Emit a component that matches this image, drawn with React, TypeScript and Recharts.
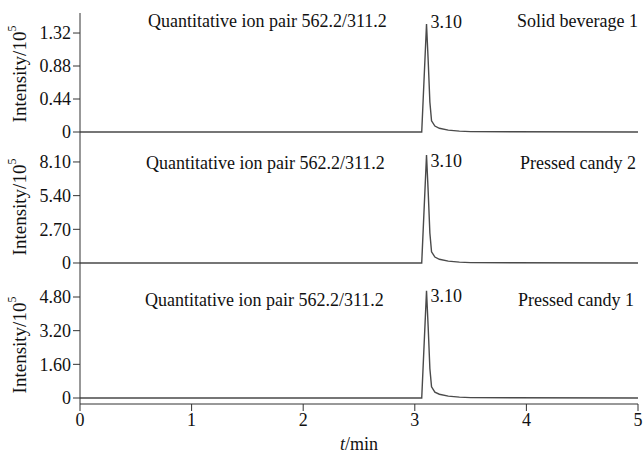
import React from 'react';
import { LineChart, Line, XAxis, YAxis, ReferenceDot } from 'recharts';

// retention time (min)
const times = [0, 2.9, 3.062, 3.105, 3.12, 3.135, 3.15, 3.18, 3.22, 3.3, 3.4, 3.5, 5];
// intensities (x10^5)
const solidBeverage1 = [0, 0, 0, 1.44, 0.95, 0.4, 0.15, 0.08, 0.05, 0.025, 0.012, 0.005, 0];
const pressedCandy2 = [0, 0, 0, 8.66, 5.7, 2.4, 0.9, 0.48, 0.3, 0.15, 0.07, 0.03, 0];
const pressedCandy1 = [0, 0, 0, 5.09, 3.35, 1.4, 0.53, 0.28, 0.18, 0.09, 0.04, 0.018, 0];

const xTicks = [0, 1, 2, 3, 4, 5];
const yTicks1 = [0, 0.44, 0.88, 1.32];
const yTickLabels1 = ['0', '0.44', '0.88', '1.32'];
const yTicks2 = [0, 2.7, 5.4, 8.1];
const yTickLabels2 = ['0', '2.70', '5.40', '8.10'];
const yTicks3 = [0, 1.6, 3.2, 4.8];
const yTickLabels3 = ['0', '1.60', '3.20', '4.80'];

const sampleNames = ['Solid beverage 1', 'Pressed candy 2', 'Pressed candy 1'];
const ionPair = 'Quantitative ion pair 562.2/311.2';
const peakLabel = '3.10';
const peakTime = 3.105;
const yLabelMain = 'Intensity/10';
const yLabelSup = '5';

const FONT = '"Liberation Serif", "Times New Roman", serif';
const FS = 18;
const LINE = '#4a4a4a';
const AXIS = '#333';

const panels = [
  { top: 0, height: 147, mTop: 13, domain: [-0.2, 1.587], ticks: yTicks1, labels: yTickLabels1, values: solidBeverage1, showX: false, peakDy: 4, ionX: 148, textY: 27, nameX: 638, yLabelCy: 74 },
  { top: 147, height: 133, mTop: 0, domain: [-1.363, 9.3], ticks: yTicks2, labels: yTickLabels2, values: pressedCandy2, showX: false, peakDy: 12, ionX: 146, textY: 169, nameX: 636, yLabelCy: 207 },
  { top: 280, height: 174, mTop: 0, domain: [-0.285, 5.608], ticks: yTicks3, labels: yTickLabels3, values: pressedCandy1, showX: true, peakDy: 11, ionX: 145, textY: 306, nameX: 634, yLabelCy: 345 },
];

const PeakText = (props: any) => {
  const vb = props.viewBox || {};
  return (
    <text x={(vb.x || 0) + 4} y={(vb.y || 0) + props.dy} fontFamily={FONT} fontSize={FS} fill="#111">
      {peakLabel}
    </text>
  );
};

export default function App() {
  return (
    <div style={{ position: 'absolute', left: 0, top: 0, width: 644, height: 454, background: '#fff' }}>
      {panels.map((p, i) => {
        const data = times.map((t, k) => ({ t, v: p.values[k] }));
        const peakIdx = p.values.indexOf(Math.max(...p.values));
        return (
          <div key={i} style={{ position: 'absolute', left: 0, top: p.top }}>
            <LineChart
              width={644}
              height={p.height}
              data={data}
              margin={{ top: p.mTop, right: 6, bottom: 0, left: 0 }}
            >
              <XAxis
                dataKey="t"
                type="number"
                domain={[0, 5]}
                ticks={xTicks}
                hide={!p.showX}
                height={50}
                tickSize={7}
                tickMargin={2}
                stroke={AXIS}
                tick={{ fill: '#111', fontFamily: FONT, fontSize: FS }}
                interval={0}
              />
              <YAxis
                type="number"
                domain={p.domain as [number, number]}
                allowDataOverflow
                ticks={p.ticks}
                tickFormatter={(v: number) => p.labels[p.ticks.indexOf(v)] ?? String(v)}
                width={80}
                tickSize={7}
                tickMargin={2}
                stroke={AXIS}
                tick={{ fill: '#111', fontFamily: FONT, fontSize: FS }}
                interval={0}
              />
              <Line
                type="linear"
                dataKey="v"
                stroke={LINE}
                strokeWidth={1.4}
                dot={false}
                isAnimationActive={false}
              />
              <ReferenceDot
                x={peakTime}
                y={p.values[peakIdx]}
                r={0}
                fill="none"
                stroke="none"
                label={<PeakText dy={p.peakDy} />}
              />
            </LineChart>
          </div>
        );
      })}
      <svg width={644} height={454} style={{ position: 'absolute', left: 0, top: 0, pointerEvents: 'none' }}>
        {panels.map((p, i) => (
          <g key={i} fontFamily={FONT} fontSize={FS} fill="#111">
            <text x={p.ionX} y={p.textY}>{ionPair}</text>
            <text x={p.nameX} y={p.textY} textAnchor="end">{sampleNames[i]}</text>
            <text
              x={19}
              y={p.yLabelCy}
              textAnchor="middle"
              dominantBaseline="central"
              fontSize={19}
              transform={`rotate(-90 19 ${p.yLabelCy})`}
            >
              {yLabelMain}
              <tspan fontSize={12} dy={-7}>{yLabelSup}</tspan>
            </text>
          </g>
        ))}
        <text x={359} y={450} textAnchor="middle" fontFamily={FONT} fontSize={FS} fill="#111">
          <tspan fontStyle="italic">t</tspan>/min
        </text>
      </svg>
    </div>
  );
}
